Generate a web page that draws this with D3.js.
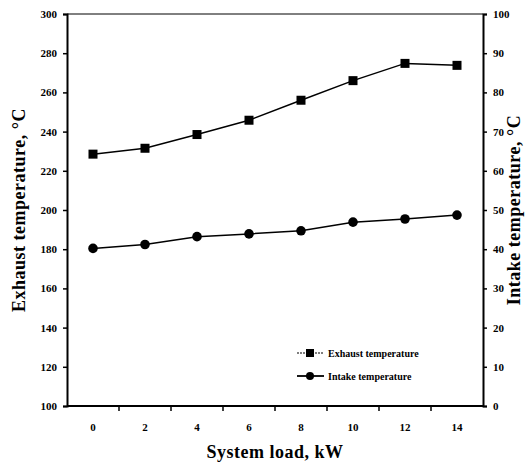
<!DOCTYPE html>
<html>
<head>
<meta charset="utf-8">
<script src="https://cdn.jsdelivr.net/npm/d3@7"></script>
<style>
  body { margin: 0; background: #fff; }
  text { font-family: "Liberation Serif", "Times New Roman", serif; font-weight: bold; fill: #000; }
</style>
</head>
<body>
<div id="chart"></div>
<script>
// data
var loads = [0, 2, 4, 6, 8, 10, 12, 14];
var exhaust = [228.5, 231.5, 238.5, 245.8, 256, 266, 274.8, 273.8];
var intake = [40.2, 41.2, 43.2, 43.9, 44.7, 46.9, 47.7, 48.7];
var leftTicks = [100, 120, 140, 160, 180, 200, 220, 240, 260, 280, 300];
var rightTicks = [0, 10, 20, 30, 40, 50, 60, 70, 80, 90, 100];

var svgWidth = 525;
var svgHeight = 465;
var margin = { top: 14, right: 42, bottom: 59, left: 67 };
var chartWidth = svgWidth - margin.left - margin.right;
var chartHeight = svgHeight - margin.top - margin.bottom;

var svg = d3.select("#chart")
  .append("svg")
  .attr("width", svgWidth)
  .attr("height", svgHeight);

var chartGroup = svg.append("g")
  .attr("transform", `translate(${margin.left}, ${margin.top})`);

var xScale = d3.scaleBand()
  .domain(loads)
  .range([0, chartWidth]);

var yLeft = d3.scaleLinear().domain([100, 300]).range([chartHeight, 0]);
var yRight = d3.scaleLinear().domain([0, 100]).range([chartHeight, 0]);

// top frame line
chartGroup.append("line")
  .attr("x1", 0).attr("x2", chartWidth)
  .attr("y1", 0).attr("y2", 0)
  .attr("stroke", "#000")
  .attr("stroke-width", 1);

// x axis: ticks at band edges
var xAxisG = chartGroup.append("g")
  .attr("transform", `translate(0, ${chartHeight})`);
xAxisG.append("line")
  .attr("x1", 0).attr("x2", chartWidth)
  .attr("stroke", "#000").attr("stroke-width", 2);
var edges = d3.range(1, loads.length).map(i => xScale.step() * i);
xAxisG.selectAll(".xt").data(edges).enter().append("line")
  .attr("x1", d => d).attr("x2", d => d)
  .attr("y1", 0).attr("y2", 5)
  .attr("stroke", "#000").attr("stroke-width", 1.5);
xAxisG.selectAll(".xl").data(loads).enter().append("text")
  .attr("x", d => xScale(d) + xScale.bandwidth() / 2)
  .attr("y", 25)
  .attr("text-anchor", "middle")
  .attr("font-size", "11px")
  .text(d => d);

// left axis
var leftAxis = d3.axisLeft(yLeft).tickValues(leftTicks).tickSize(4).tickPadding(6);
chartGroup.append("g")
  .attr("class", "leftAxis")
  .call(leftAxis);

// right axis
var rightAxis = d3.axisRight(yRight).tickValues(rightTicks).tickSize(4).tickPadding(6);
chartGroup.append("g")
  .attr("class", "rightAxis")
  .attr("transform", `translate(${chartWidth}, 0)`)
  .call(rightAxis);

chartGroup.selectAll(".leftAxis path, .rightAxis path")
  .attr("stroke-width", 2);
chartGroup.selectAll(".leftAxis .tick line, .rightAxis .tick line")
  .attr("stroke-width", 1.5);
chartGroup.selectAll(".leftAxis text, .rightAxis text")
  .attr("font-size", "11px")
  .attr("font-family", "Liberation Serif, serif")
  .attr("font-weight", "bold");

// series lines
var lineExhaust = d3.line()
  .x((d, i) => xScale(loads[i]) + xScale.bandwidth() / 2)
  .y(d => yLeft(d));
var lineIntake = d3.line()
  .x((d, i) => xScale(loads[i]) + xScale.bandwidth() / 2)
  .y(d => yRight(d));

chartGroup.append("path")
  .datum(exhaust)
  .attr("d", lineExhaust)
  .attr("fill", "none")
  .attr("stroke", "#000")
  .attr("stroke-width", 1.5);

chartGroup.append("path")
  .datum(intake)
  .attr("d", lineIntake)
  .attr("fill", "none")
  .attr("stroke", "#000")
  .attr("stroke-width", 1.5);

var sq = 9;
chartGroup.selectAll(".sq").data(exhaust).enter().append("rect")
  .attr("x", (d, i) => xScale(loads[i]) + xScale.bandwidth() / 2 - sq / 2)
  .attr("y", d => yLeft(d) - sq / 2)
  .attr("width", sq).attr("height", sq)
  .attr("fill", "#000");

chartGroup.selectAll(".dot").data(intake).enter().append("circle")
  .attr("cx", (d, i) => xScale(loads[i]) + xScale.bandwidth() / 2)
  .attr("cy", d => yRight(d))
  .attr("r", 4.8)
  .attr("fill", "#000");

// legend
var legend = svg.append("g");
legend.append("line")
  .attr("x1", 297).attr("x2", 324).attr("y1", 353).attr("y2", 353)
  .attr("stroke", "#000").attr("stroke-width", 1.2).attr("stroke-dasharray", "2,1");
legend.append("rect")
  .attr("x", 306).attr("y", 349).attr("width", 8).attr("height", 8).attr("fill", "#000");
legend.append("text")
  .attr("x", 328).attr("y", 357)
  .attr("font-size", "10px")
  .text("Exhaust temperature");

legend.append("line")
  .attr("x1", 297).attr("x2", 324).attr("y1", 376).attr("y2", 376)
  .attr("stroke", "#000").attr("stroke-width", 1.8);
legend.append("circle")
  .attr("cx", 310).attr("cy", 376).attr("r", 4).attr("fill", "#000");
legend.append("text")
  .attr("x", 328).attr("y", 380)
  .attr("font-size", "10px")
  .text("Intake temperature");

// axis titles
svg.append("text")
  .attr("transform", `translate(${margin.left + chartWidth / 2}, 458)`)
  .attr("text-anchor", "middle")
  .attr("font-size", "18px")
  .attr("letter-spacing", "0.5px")
  .text("System load, kW");

svg.append("text")
  .attr("transform", `translate(25, ${margin.top + chartHeight / 2}) rotate(-90)`)
  .attr("text-anchor", "middle")
  .attr("font-size", "18px")
  .attr("letter-spacing", "0.5px")
  .text("Exhaust temperature, \u00B0C");

svg.append("text")
  .attr("transform", `translate(520, ${margin.top + chartHeight / 2}) rotate(-90)`)
  .attr("text-anchor", "middle")
  .attr("font-size", "18px")
  .attr("letter-spacing", "0.5px")
  .text("Intake temperature, \u00B0C");
</script>
</body>
</html>
